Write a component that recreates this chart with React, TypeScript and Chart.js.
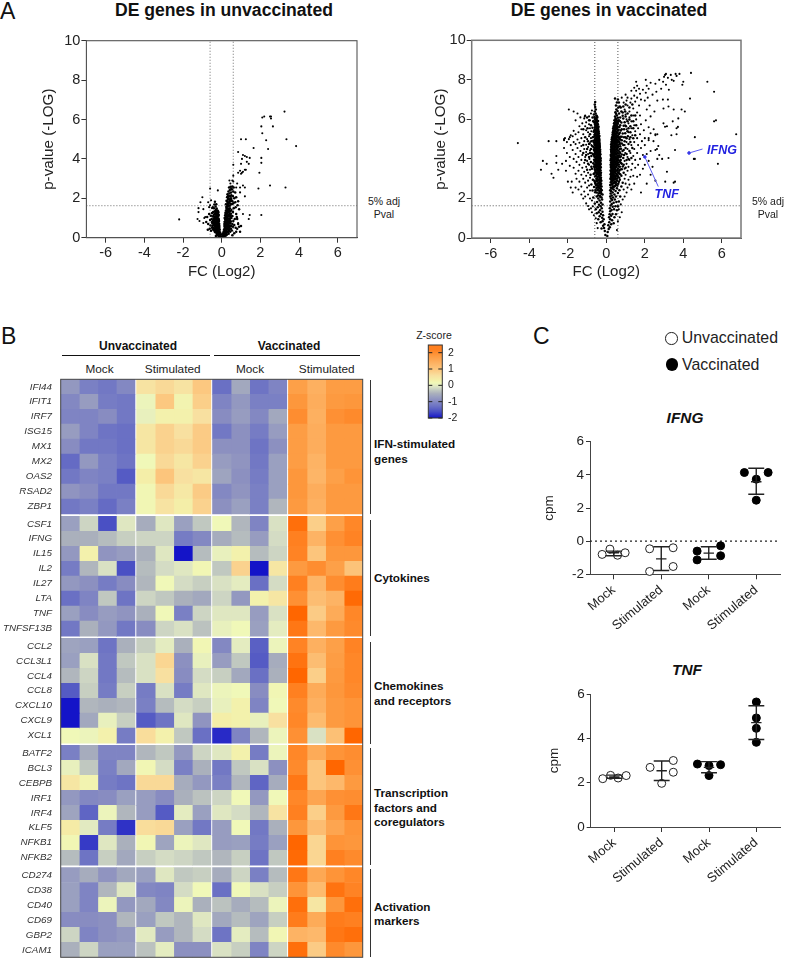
import React, { useEffect, useRef } from "react";
import { Chart, registerables } from "chart.js";

Chart.register(...registerables);

const FONT = '"Liberation Sans", Arial, sans-serif';

// ---------- Panel A: volcano data (FC log2, -log10 p), flat x,y pairs
const unvacCoreLeft = [-.03,.03,-.06,.1,-.04,.18,-.09,.06,-.1,.16,-.08,.26,-.13,.12,-.12,.3,-.15,.22,-.1,.4,-.17,.08,-.18,.34,-.14,.45,-.2,.18,-.22,.28,-.16,.55,-.24,.42,-.19,.5,-.12,.6,-.26,.2,-.28,.35,-.21,.62,-.15,.72,-.3,.5,-.25,.6,-.33,.28,-.18,.78,-.23,.74,-.28,.68,-.35,.45,-.14,.85,-.32,.62,-.2,.88,-.38,.38,-.26,.84,-.16,.96,-.36,.7,-.3,.82,-.42,.5,-.22,1,-.34,.92,-.4,.64,-.18,1.08,-.27,1.02,-.45,.42,-.38,.86,-.15,1.15,-.32,1.08,-.24,1.14,-.44,.72,-.2,1.22,-.36,1.05,-.48,.6,-.28,1.22,-.42,.95,-.17,1.28,-.33,1.26,-.25,1.32,-.5,.8,-.4,1.18,-.22,1.38,-.46,1.08,-.3,1.4,-.36,1.34,-.52,.95,-.26,1.48,-.44,1.3,-.58,.62,-.4,1.5,-.6,.9,-.32,1.58,-.5,1.25,-.56,1.12,-.46,1.55,-.38,1.68,-.35,1.82,-.28,1.7,-.62,.45,-.55,.35,-.7,.7,-.75,1.05,-.65,1.2,-.72,.4,-.8,.8,-.3,.08];
const unvacDenseLeft = [-.1,.08,-.15,.3,-.2,.38,-.24,.14,-.12,.5,-.27,.28,-.18,.6,-.3,.4,-.22,.46,-.13,.7,-.25,.52,-.33,.54,-.36,.32,-.19,.68,-.28,.76,-.32,.74,-.15,.9,-.22,.82,-.4,.44,-.36,.6,-.18,.94,-.24,.96,-.3,.92,-.38,.76,-.42,.8,-.2,1.1,-.27,1.1,-.33,1,-.24,1.24,-.3,1.18,-.38,1,-.44,.88,-.19,1.34,-.35,1.2,-.27,1.38,-.42,1.1,-.31,1.32,-.48,.72,-.5,.5];
const unvacCoreRight = [.03,.02,.05,.12,.08,.05,.07,.22,.11,.14,.1,.32,.14,.08,.13,.26,.16,.18,.12,.42,.18,.3,.2,.1,.16,.5,.22,.24,.19,.42,.14,.6,.24,.36,.27,.16,.21,.55,.17,.7,.26,.48,.3,.28,.23,.66,.15,.8,.33,.42,.28,.6,.2,.82,.36,.2,.25,.76,.32,.56,.18,.92,.38,.36,.3,.72,.23,.92,.4,.5,.35,.66,.15,1,.27,.88,.44,.3,.2,1.05,.33,.84,.42,.62,.25,1.04,.38,.78,.18,1.14,.48,.46,.3,1,.22,1.18,.45,.72,.36,.96,.28,1.14,.5,.6,.42,.9,.2,1.28,.33,1.12,.52,.36,.25,1.26,.48,.82,.38,1.1,.3,1.26,.55,.7,.45,1,.22,1.38,.35,1.3,.28,1.38,.58,.55,.5,1,.42,1.2,.25,1.48,.38,1.4,.32,1.5,.6,.85,.48,1.22,.55,1.1,.28,1.6,.42,1.5,.35,1.62,.65,.65,.22,1.7,.5,1.4,.3,1.76,.45,1.72,.38,1.8,.58,1.3,.25,1.88,.68,.95,.33,1.95,.52,1.7,.42,1.95,.62,1.5,.28,2.05,.5,1.92,.36,2.1,.72,.5,.55,1.85,.45,2.1,.3,2.2,.4,2.25,.6,1.75,.5,2.15,.35,2.35,.48,2.3,.42,2.42,.58,2.1,.38,2.55,.52,2.45,.46,2.58,.6,2.35,.55,2.6,.5,2.5,.62,2.55,.7,1.8,.75,1.2,.8,.45,.85,.7,.9,.55,.78,1.05,.72,1.55,.82,1.65,.9,1.45,.65,2,.75,2.05,.8,.95,.95,.3,1,.6,.85,1.85,.7,2.3,.55,.12,.65,.22,.75,.3];
const unvacDenseRight = [.09,.12,.12,.2,.15,.34,.2,.2,.18,.48,.24,.14,.23,.42,.27,.3,.14,.7,.2,.62,.3,.46,.24,.58,.17,.82,.34,.3,.28,.68,.36,.5,.22,.78,.31,.62,.38,.6,.19,.98,.26,.96,.33,.76,.4,.42,.42,.74,.24,1.12,.29,.9,.36,.84,.46,.58,.31,1.08,.4,.98,.21,1.24,.27,1.32,.36,1.18,.44,.84,.47,1.1,.3,1.42,.24,1.56,.4,1.32,.34,1.44,.45,1.34,.3,1.66,.36,1.72,.42,1.62,.28,1.85,.4,1.88,.35,2,.45,1.85,.4,2.1,.32,2.1,.48,2];
const unvacOutliers = [-2.2,.93,3.25,6.4,3.35,5,3.85,4.65,2.65,5.65,2.55,6.15,2.5,6.15,2.55,6.05,2.2,6.15,2.1,6.1,2.05,5.65,2.1,5.3,2.3,4.95,2.4,4.5,1.65,4.55,1.25,5,1,5,2.05,4.05,2.05,3.8,1.95,3.3,.85,4.35,1.1,4.2,1.2,4.15,1.3,4.1,1.45,4.05,1.05,4,1.3,3.85,1,3.75,1.4,3.75,.6,3.7,1.2,3.45,1.25,3.45,.85,3.3,1,3.25,1.05,3.3,1.1,3.35,.95,3.4,.6,3.15,.55,2.9,.4,2.9,.45,2.75,.8,2.75,1.1,2.65,1.2,2.55,.95,2.55,1.9,2.5,2.5,2.65,3.3,2.55,1.2,2.1,2.05,1.15,1.45,1.15,1.4,.95,1.1,1.2,.8,1,.85,.75,.95,2.3,.75,2.55,.6,2.85,-.6,2.5,-1,2.05,-.2,2.4,-1.1,1.8,-1.2,1.5,-1.2,1.3,-1.25,.95,-1.15,.85,-.95,1.45,-.85,1.05,-.9,1,-.7,1.8,-.65,1.55,-.6,1.65,-.55,1.9,-.5,1.5,-.95,.75];

const vacLeftCore = [-.05,.15,-.08,.35,-.12,.5,-.1,.7,-.17,.62,-.25,.48,-.2,.85,-.14,.95,-.3,.8,-.22,1.02,-.35,1.1,-.17,1.15,-.28,1.22,-.42,.95,-.4,1.3,-.2,1.33,-.33,1.4,-.5,1.25,-.24,1.5,-.45,1.55,-.3,1.6,-.38,1.68,-.55,1.45,-.2,1.7,-.28,1.78,-.48,1.82,-.35,1.9,-.22,1.95,-.6,1.75,-.42,2,-.25,2.05,-.33,2.12,-.5,2.1,-.68,2.05,-.2,2.2,-.4,2.25,-.28,2.3,-.58,2.32,-.36,2.38,-.24,2.42,-.46,2.44,-.72,2.4,-.3,2.5,-.52,2.53,-.38,2.56,-.25,2.6,-.64,2.58,-.44,2.65,-.32,2.68,-.55,2.72,-.27,2.75,-.4,2.78,-.78,2.7,-.34,2.83,-.48,2.86,-.6,2.85,-.26,2.9,-.42,2.93,-.3,2.97,-.7,2.95,-.52,3,-.28,3.05,-.36,3.08,-.45,3.1,-.58,3.12,-.3,3.16,-.4,3.2,-.5,3.22,-.66,3.24,-.33,3.27,-.28,3.3,-.44,3.32,-.55,3.34,-.37,3.38,-.3,3.42,-.48,3.44,-.6,3.46,-.42,3.5,-.34,3.52,-.75,3.5,-.29,3.56,-.52,3.58,-.4,3.6,-.64,3.62,-.32,3.64,-.46,3.67,-.36,3.7,-.56,3.72,-.29,3.74,-.42,3.77,-.5,3.8,-.68,3.78,-.33,3.83,-.38,3.86,-.6,3.88,-.46,3.9,-.3,3.92,-.54,3.95,-.4,3.97,-.35,4,-.3,4.03,-.44,4.05,-.5,4.08,-.37,4.1,-.62,4.12,-.33,4.15,-.47,4.17,-.4,4.2,-.56,4.22,-.31,4.24,-.7,4.25,-.43,4.28,-.36,4.3,-.5,4.33,-.6,4.35,-.33,4.37,-.46,4.4,-.4,4.43,-.55,4.45,-.32,4.47,-.65,4.48,-.37,4.5,-.48,4.53,-.42,4.56,-.58,4.58,-.34,4.6,-.5,4.62,-.38,4.65,-.72,4.64,-.45,4.68,-.6,4.7,-.35,4.72,-.52,4.75,-.41,4.78,-.47,4.8,-.37,4.83,-.65,4.84,-.55,4.86,-.43,4.88,-.36,4.92,-.5,4.94,-.6,4.96,-.4,4.98,-.38,5.02,-.47,5.05,-.55,5.08,-.42,5.12,-.7,5.1,-.36,5.16,-.5,5.2,-.62,5.22,-.44,5.26,-.39,5.3,-.56,5.32,-.48,5.36,-.4,5.4,-.66,5.38,-.52,5.44,-.42,5.48,-.6,5.5,-.45,5.55,-.54,5.6,-.41,5.64,-.72,5.58,-.5,5.68,-.44,5.74,-.6,5.76,-.48,5.82,-.55,5.88,-.43,5.92,-.67,5.9,-.5,5.98,-.58,6.04,-.47,6.1,-.62,6.12,-.52,6.2,-.56,6.3,-.6,6.4,-.55,6.5,-.58,6.62,-.6,6.75,-.58,6.88];
const vacLeftDense = [-.31,2.07,-.43,2.15,-.26,2.22,-.35,2.28,-.5,2.3,-.3,2.37,-.41,2.42,-.56,2.42,-.28,2.47,-.36,2.52,-.47,2.56,-.3,2.62,-.41,2.62,-.53,2.65,-.35,2.72,-.46,2.74,-.31,2.79,-.58,2.78,-.37,2.89,-.5,2.92,-.33,2.93,-.45,2.97,-.62,2.9,-.34,3.02,-.47,3.04,-.39,3.14,-.53,3.15,-.31,3.21,-.43,3.25,-.62,3.28,-.35,3.31,-.51,3.3,-.41,3.39,-.33,3.45,-.57,3.4,-.45,3.47,-.38,3.54,-.49,3.53,-.61,3.55,-.31,3.59,-.43,3.63,-.55,3.64,-.36,3.66,-.49,3.69,-.33,3.71,-.41,3.74,-.62,3.72,-.52,3.76,-.37,3.8,-.45,3.82,-.32,3.87,-.55,3.84,-.42,3.89,-.37,3.94,-.5,3.93,-.64,3.96,-.33,3.98,-.45,4.01,-.39,4.06,-.55,4.04,-.33,4.09,-.46,4.11,-.6,4.1,-.36,4.14,-.52,4.15,-.43,4.19,-.65,4.2,-.35,4.22,-.48,4.25,-.39,4.27,-.58,4.27,-.33,4.31,-.45,4.34,-.54,4.36,-.38,4.39,-.63,4.42,-.43,4.45,-.35,4.46,-.51,4.47,-.39,4.54,-.6,4.52,-.46,4.55,-.36,4.58,-.53,4.6,-.42,4.62,-.66,4.6,-.35,4.67,-.48,4.67,-.56,4.69,-.39,4.72,-.44,4.75,-.62,4.76,-.5,4.78,-.36,4.79,-.43,4.84,-.58,4.82,-.47,4.87,-.39,4.9,-.54,4.91,-.68,4.92,-.42,4.95,-.48,4.99,-.37,5,-.57,5.03,-.43,5.07,-.5,5.1,-.39,5.1,-.62,5.14,-.46,5.16,-.54,5.18,-.41,5.22,-.58,5.27,-.47,5.29,-.43,5.34,-.52,5.4,-.63,5.42,-.46,5.43,-.57,5.47,-.49,5.52,-.42,5.58,-.59,5.6,-.47,5.62,-.53,5.7,-.46,5.78,-.58,5.72,-.52,5.8,-.62,5.85,-.5,5.9,-.55,5.96,-.53,6.06,-.6,6.02,-.49,6.16,-.82,3.2,-1,3.45,-.78,3.6,-.95,3.75,-.8,3.85,-1.1,3.95,-.78,4.15,-.9,4.1,-1.05,4.2,-.85,4.3,-1.2,4.3,-.8,4.5,-1,4.5,-.9,4.75,-1.2,4.7,-.78,4.9,-.95,4.9,-1.1,5.1,-.85,5.25,-.98,5.55,-.8,5.7,-.9,5.95,-1,6.1,-1.2,5.5,-.72,6.1,-.65,6.25];
const vacLeftScatter = [-.45,.5,-.5,.75,-.55,1,-.65,1.15,-.75,1.3,-.8,1.5,-.9,1.45,-.7,1.6,-.95,1.62,-.75,1.9,-.85,2,-1.05,1.75,-1.2,2,-1.1,2.1,-.95,2.2,-1.3,2.2,-1.45,2.45,-1.6,2.55,-.85,2.4,-1.15,2.35,-1,2.55,-1.3,2.6,-.9,2.65,-1.75,2.3,-1.85,2.55,-1.1,2.8,-1.4,2.85,-.95,2.9,-1.2,3,-1.55,3,-.85,3.05,-1.8,2.85,-2,2.85,-1.05,3.15,-1.3,3.2,-.95,3.3,-1.6,3.25,-1.15,3.35,-1.45,3.4,-.85,3.45,-2.1,3.4,-1.25,3.55,-1.05,3.6,-1.7,3.55,-1.9,3.65,-.9,3.7,-1.4,3.7,-1.15,3.8,-1.55,3.85,-1,3.9,-2.3,3.75,-1.3,3.95,-.88,4,-1.7,4,-1.1,4.1,-1.45,4.1,-1.9,4.1,-1.25,4.2,-.95,4.25,-1.6,4.25,-2.05,4.3,-1.05,4.35,-1.35,4.4,-.85,4.42,-1.75,4.45,-1.15,4.5,-1.5,4.55,-2.2,4.55,-.95,4.6,-1.3,4.65,-1.85,4.7,-1.05,4.72,-1.6,4.75,-.85,4.8,-1.4,4.82,-1.7,4.85,-1.15,4.9,-2.05,4.85,-1.95,5,-1.9,5.1,-2.15,5.05,-1.5,4.98,-1,5,-1.3,5.05,-.9,5.15,-1.75,5.15,-1.6,5.25,-1.85,5.2,-1.2,5.25,-.95,5.35,-1.45,5.35,-1.7,5.42,-1.05,5.45,-1.3,5.5,-.85,5.55,-1.1,5.65,-1.25,5.8,-.9,5.75,-1.05,5.85,-.85,5.95,-1.15,6.05,-1.1,6.2,-1.12,6.15,-.9,6.15,-1.35,6.1,-1.5,6.3,-1.7,6.4,-1.95,6.5,-1.6,5.95,-1.4,5.65,-.8,6.3,-.75,6.45,-.7,5.9,-.78,5.4,-.8,5.05,-.78,4.7,-.76,4.3,-4.6,4.8,-3.4,3.45,-3.3,3.9,-3.1,3.75,-3,4.9,-2.85,3.25,-2.75,3.05,-2.6,4.15,-2.6,3.8,-2.6,4.9,-2.2,4.95,-2.2,5,-2.1,3.9,-2.5,3.45];
const vacRightCore = [.05,.1,.07,.3,.12,.45,.1,.65,.18,.55,.15,.8,.25,.7,.2,.95,.3,.9,.14,1.05,.38,.75,.25,1.12,.17,1.2,.42,1.05,.32,1.22,.2,1.35,.5,1.2,.27,1.42,.4,1.45,.18,1.5,.55,1.4,.33,1.58,.22,1.65,.47,1.6,.28,1.72,.6,1.6,.38,1.78,.2,1.85,.52,1.82,.3,1.92,.44,1.95,.24,2,.65,1.85,.35,2.05,.2,2.1,.5,2.1,.28,2.15,.42,2.2,.72,2.1,.22,2.25,.6,2.28,.33,2.3,.25,2.36,.48,2.38,.2,2.42,.38,2.45,.68,2.42,.3,2.5,.55,2.52,.23,2.56,.42,2.6,.34,2.62,.78,2.6,.2,2.68,.5,2.7,.28,2.72,.62,2.74,.37,2.78,.23,2.82,.45,2.85,.32,2.88,.85,2.8,.55,2.9,.26,2.94,.7,2.95,.4,2.98,.21,3,.3,3.03,.48,3.05,.24,3.08,.6,3.1,.36,3.12,.28,3.16,.78,3.15,.44,3.18,.22,3.22,.54,3.24,.33,3.26,.66,3.28,.26,3.3,.4,3.33,.9,3.3,.48,3.37,.3,3.38,.22,3.42,.58,3.44,.36,3.46,.72,3.46,.27,3.5,.44,3.53,.24,3.56,.52,3.58,.33,3.6,.64,3.62,.4,3.64,.85,3.62,.28,3.67,.22,3.7,.48,3.72,.36,3.74,.58,3.76,.3,3.8,.75,3.8,.25,3.83,.42,3.85,.53,3.87,.34,3.9,.22,3.93,.65,3.92,.46,3.96,.28,3.98,.38,4,.24,4.02,.55,4.04,.32,4.06,.44,4.1,.7,4.08,.27,4.12,.62,4.14,.37,4.16,.23,4.2,.5,4.22,.34,4.24,.8,4.22,.28,4.28,.42,4.3,.58,4.32,.25,4.35,.36,4.38,.68,4.38,.48,4.42,.3,4.44,.24,4.48,.55,4.5,.4,4.52,.33,4.55,.76,4.52,.26,4.58,.46,4.6,.62,4.62,.36,4.64,.28,4.68,.52,4.7,.42,4.72,.88,4.7,.25,4.74,.7,4.76,.33,4.78,.48,4.8,.58,4.82,.38,4.85,.27,4.87,.44,4.9,.65,4.9,.32,4.93,.54,4.95,.8,4.95,.4,4.98,.28,5,.35,5.03,.5,5.05,.6,5.08,.3,5.1,.42,5.12,.72,5.12,.36,5.16,.55,5.2,.32,5.22,.46,5.25,.66,5.26,.38,5.3,.85,5.28,.33,5.34,.52,5.36,.44,5.4,.6,5.42,.37,5.45,.75,5.44,.48,5.5,.35,5.54,.56,5.56,.42,5.6,.68,5.62,.38,5.65,.5,5.7,.9,5.68,.45,5.74,.6,5.78,.4,5.8,.55,5.85,.78,5.84,.47,5.9,.42,5.95,.65,5.96,.52,6,.48,6.06,.6,6.08,.72,6.1,.45,6.15,.55,6.2,.85,6.18,.5,6.28,.66,6.3,.47,6.36,.58,6.42,.78,6.4,.52,6.5,.62,6.6,.5,6.7,.7,6.65,.55,6.85,.6,7,.45,7.05];
const vacRightDense = [.27,2.52,.36,2.57,.46,2.64,.25,2.7,.33,2.74,.57,2.66,.42,2.8,.28,2.84,.5,2.8,.37,2.91,.65,2.84,.25,2.97,.46,2.96,.34,2.98,.27,3.02,.42,3.02,.55,3,.33,3.07,.67,3.05,.25,3.13,.4,3.12,.5,3.14,.3,3.19,.58,3.18,.37,3.22,.72,3.22,.26,3.26,.47,3.27,.35,3.31,.6,3.33,.43,3.36,.25,3.36,.31,3.42,.52,3.42,.38,3.42,.67,3.4,.45,3.47,.28,3.47,.35,3.53,.6,3.5,.8,3.48,.24,3.6,.4,3.56,.5,3.62,.3,3.62,.7,3.6,.37,3.68,.55,3.68,.26,3.72,.44,3.72,.65,3.72,.33,3.76,.5,3.78,.27,3.77,.4,3.8,.6,3.82,.8,3.75,.35,3.84,.47,3.84,.29,3.87,.7,3.86,.4,3.9,.55,3.91,.26,3.96,.34,3.95,.6,3.97,.43,3.98,.75,3.95,.5,3.99,.28,4.03,.4,4.05,.6,4.06,.35,4.08,.5,4.1,.75,4.12,.25,4.13,.44,4.13,.57,4.17,.31,4.19,.67,4.19,.41,4.2,.27,4.24,.53,4.26,.37,4.27,.47,4.3,.72,4.3,.32,4.32,.62,4.28,.42,4.35,.25,4.4,.52,4.38,.33,4.4,.39,4.44,.6,4.43,.84,4.4,.45,4.46,.28,4.5,.36,4.5,.52,4.54,.68,4.5,.42,4.58,.31,4.6,.58,4.58,.48,4.64,.26,4.63,.39,4.67,.72,4.64,.55,4.67,.32,4.7,.44,4.76,.62,4.72,.3,4.75,.37,4.8,.5,4.76,.8,4.78,.28,4.82,.42,4.82,.55,4.86,.35,4.87,.68,4.84,.47,4.89,.3,4.9,.6,4.96,.38,4.94,.44,4.97,.72,4.98,.5,4.99,.33,4.97,.31,5.04,.45,5.06,.38,5.08,.55,5.1,.68,5.05,.34,5.13,.48,5.15,.8,5.12,.4,5.2,.6,5.16,.35,5.26,.52,5.28,.44,5.3,.7,5.32,.38,5.36,.58,5.33,.47,5.42,.36,5.4,.64,5.47,.42,5.52,.53,5.5,.8,5.5,.46,5.6,.38,5.58,.6,5.62,.5,5.62,.72,5.7,.42,5.72,.55,5.7,.47,5.8,.62,5.88,.52,5.8,.7,5.92,.45,5.85,.58,5.93,.5,5.95,.9,3.7,1,3.55,.88,4.05,1.05,3.95,1.15,4,.92,4.2,1.3,4.05,1.05,4.25,.9,4.45,1.2,4.4,1,4.55,1.35,4.55,.95,4.9,1.15,4.75,1.25,4.85,1.05,5.05,.92,5.1,1.4,5.05,1.12,5.15,1.25,5.1,.98,5.3,1.5,5.2,1.1,5.4,1.25,5.35,.92,5.5,1.4,5.55,1.15,5.55,1.02,5.65,1.25,5.65,.95,5.85,1.1,5.9,1.55,5.7,1.4,5.9,1.2,6,.88,6.05,1,6.15,1.3,6.2,1.1,6.3,.85,6.35,.98,6.4,1.5,6.2,1.2,6.6,.75,6.6,.88,6.65,1.35,6.75,1,6.75,.65,6.85];
const vacRightScatter = [.55,.4,.6,.85,.7,1.05,.8,1.3,.65,1.45,.75,1.7,.85,1.95,.95,2.1,1.05,2.3,1.1,2.55,.9,2.45,1,2.75,1.2,2.7,1.3,2.45,1.15,2.95,.95,3,1.45,2.75,1.25,3.1,1,3.2,1.4,3.15,1.1,3.4,1.6,3.1,1.3,3.45,.95,3.5,1.75,3.2,1.5,3.55,1.15,3.6,1.8,2.3,2.1,2.75,1.05,3.75,1.35,3.75,1.65,3.7,1.9,3.5,.95,3.9,1.2,3.95,1.5,3.95,2,3.7,1.1,4.1,1.4,4.15,1.75,4,2.2,3.9,.98,4.3,1.25,4.3,1.6,4.3,1.9,4.2,2.4,3.6,2.65,4,2.1,4.25,1.1,4.5,1.45,4.5,1.8,4.55,2.3,4.4,2.55,4.45,.95,4.7,1.3,4.7,1.65,4.7,2,4.7,2.7,4.65,1.05,4.85,1.45,4.85,1.85,4.9,2.45,4.9,1.2,5,1.6,5.05,2,5.05,2.2,5.05,2.55,5.2,2.65,5.25,1,5.1,1.35,5.2,1.75,5.25,2.3,5.3,1.15,5.35,1.5,5.4,1.95,5.45,1.05,5.5,1.3,5.55,1.65,5.55,2.2,5.6,1.45,5.7,.98,5.7,1.15,5.8,1.8,5.75,1.3,5.9,1.05,6,1.55,6,2.05,5.95,1.2,6.1,1.4,6.2,1,6.25,1.75,6.2,2.3,6.15,1.6,6.35,1.2,6.4,.95,6.5,2.1,6.5,1.4,6.55,2.5,6.4,1.1,6.7,.9,6.85,1.7,6.7,1.25,6.85,2.25,6.7,1.5,6.9,1.05,6.95,2,6.95,.8,7.1,2.65,6.95,1.3,7.05,1.6,7.1,1.8,7,2.15,7.1,1.1,7.1,1.45,7.2,2.4,7.25,1,7.25,1.75,7.3,2.05,7.35,1.55,7.45,1.3,7.45,2.6,7.4,1.7,7.55,1.9,7.5,2.2,7.55,1.45,7.6,2.1,7.7,1.6,7.7,2.85,7.55,1.55,7.9,2.05,8,2.3,7.85,2.55,7.8,2.75,8,3.1,7.75,3.25,7.5,2.95,7.9,3.05,8.25,3.1,8.3,3,8.15,3.2,8.1,3.4,8,3.35,8.25,3.6,8.3,3.65,8.2,3.8,8.3,3.95,7.75,4,7.9,4.4,8.35,3.5,7.95,3.06,2.85,3.57,2.85,3.15,3.35,3.5,2.8,3.23,4.05,2.63,4.5,2.9,4,3.05,5.63,2.97,5.8,3.2,7,3.23,6.65,3.45,5.9,3.15,5.65,3.65,5.55,3.72,5.62,3.38,5.2,3.65,5.25,3.57,4.45,4.08,6.4,3.91,6.5,3.5,6.5,2.46,5.5,2.55,5.25,2.94,7,2.97,6.55,3.74,6.05,2,4.1,6.75,5.25,5.8,3.75,5.7,5.95,5.6,5.9,5.6,7.4,5.25,7.9,4.6,5.1,4.6,4,4.55,4,4.35,7.05,2.2,4.95,2.75,4.2,2.3,3.2,2.55,2.9];

const fcTicks = [-6, -4, -2, 0, 2, 4, 6];
const pvalTicks = [0, 2, 4, 6, 8, 10];
const fcCut = 0.6;
const pvalCut = 1.63;
const ifngPointer = [4.3, 4.3, 5, 4.5];
const tnfPointer = [2, 4.1, 2.7, 2.6];

// ---------- Panel B: heatmap z-scores
const genesIfn = ["IFI44", "IFIT1", "IRF7", "ISG15", "MX1", "MX2", "OAS2", "RSAD2", "ZBP1"];
const zIfn = [
  [-.8,-1.1,-1.2,-1,.55,.7,.55,.95,-1.3,-.6,-1.25,-1.05,1.7,1.4,1.75,1.75],
  [-1,-.75,-1.15,-1.2,.1,.95,.25,.85,-1.05,-.8,-1.1,-1.1,1.85,1.45,1.8,1.85],
  [-1.05,-1.05,-.95,-1.2,.05,.3,.3,.6,-.95,-.75,-1,-.6,2,1.4,1.95,2.05],
  [-.75,-1.05,-1.25,-1.3,.5,.8,.6,.9,-1.2,-.9,-1.15,-.75,1.75,1.45,1.8,1.8],
  [-.95,-1.2,-1.2,-1.3,.5,.8,.7,.9,-.9,-.9,-1.25,-.9,1.75,1.45,1.8,1.8],
  [-1.35,-.8,-1.1,-1.25,.15,.7,.5,.8,-.75,-.85,-1.2,-.7,1.75,1.35,1.8,1.8],
  [-1.2,-1.05,-1.1,-1.5,.35,1,.6,.5,-.65,-.9,-1.15,-.7,1.85,1.3,1.7,1.9],
  [-.85,-.95,-1.2,-1.2,.2,.7,.45,.9,-1,-.85,-1.1,-.7,1.85,1.45,1.8,1.8],
  [-1.2,-1.1,-1.35,-1.1,.2,.55,.35,.8,-.9,-.7,-1.1,-.45,1.8,1.4,1.8,1.8],
];
const genesCyto = ["CSF1", "IFNG", "IL15", "IL2", "IL27", "LTA", "TNF", "TNFSF13B"];
const zCyto = [
  [-.7,-.2,-1.6,-.05,-.55,-.05,-.7,-.3,.15,-.45,-1.05,-.1,2.4,.85,1.7,2.1],
  [-.5,-.5,-.4,-.25,-.2,-.2,-1.15,-1,-.55,-.4,-.75,-.15,2.2,1.35,1.95,2.15],
  [-.8,.3,-.85,-.75,-.5,-.05,-2,-.4,.05,.3,-.4,-.2,2.15,1,1.85,1.85],
  [-1.15,-.45,-.1,-1.6,-.4,-.15,-.05,.2,-.3,.8,-2,.5,1.8,2,1.7,1.05],
  [-.8,-.9,-1.15,-.95,-.45,.15,-.15,-.25,-.1,0,-1.3,-.15,2.2,1.3,2,2.25],
  [-1.3,-1.05,-.3,-1.25,-.2,-.3,-.5,-.6,-.2,-.8,.3,.5,1.95,1.15,1.35,2.45],
  [-.7,-.95,-.75,-.85,-.5,.15,-1.1,-.2,-.05,-.05,-.75,-.1,2.5,.9,1.5,2.1],
  [-1.2,-.5,-.8,-1.2,-.95,-.2,-.1,-.35,.05,.15,-.7,0,2.3,1.25,1.8,2.05],
];
const genesChemo = ["CCL2", "CCL3L1", "CCL4", "CCL8", "CXCL10", "CXCL9", "XCL1"];
const zChemo = [
  [-.65,-.7,-1.25,-.5,-.25,0,-.5,.2,-1,0,-1.45,.1,2.15,1.4,1.7,2.15],
  [-.7,-.1,-1.2,-.3,-.1,.75,-.9,.05,-.75,-.3,-1.5,-.55,2.35,1.15,1.75,2.1],
  [-.45,-.2,-1.2,-.4,-.1,.6,-.95,-.15,-.25,-.6,-1.3,-.5,2.5,.85,1.8,2.1],
  [-1.5,-.25,-1.15,-.25,-1.15,-.1,-1.15,-.05,.1,.15,-.95,.2,2.2,1.5,1.85,2.05],
  [-2,-.45,-.5,-.45,-1.1,-.4,-.15,-.25,.05,.3,-1.05,.15,2.05,1.4,1.8,1.9],
  [-2,-.6,.05,-.25,-1.5,-1.25,-.05,-.85,.35,.3,.05,.6,2.1,1.2,1.8,1.9],
  [.15,.1,.3,-1.15,.65,.3,-.3,-1.3,-1.85,-1.05,-.45,.1,1.95,-.1,1.1,2.5],
];
const genesTf = ["BATF2", "BCL3", "CEBPB", "IRF1", "IRF4", "KLF5", "NFKB1", "NFKB2"];
const zTf = [
  [-1.1,-.55,-1.05,-1.05,-.45,-.3,-.8,-.2,-.05,.3,-1.15,.1,2.1,1.5,1.9,2],
  [.05,-.3,-1.1,-.6,.2,-.15,-1.1,-.5,-1.2,-.3,-.1,-.9,2.05,1,2.5,1.95],
  [.5,.25,-1.15,-1.25,.7,.7,-.55,-.8,-1.1,-.45,-1.4,-.55,2.3,1,1.25,1.8],
  [-.8,-1,-.95,-.7,-.75,-.95,-.5,-.35,-.2,.15,-.8,.15,2.1,1.6,1.95,2],
  [-.65,-1.4,.1,-.45,-.75,-1.5,0,-.7,-.05,-.15,-.45,.55,2.2,.85,1.8,2.3],
  [.4,-.02,-1.15,-1.8,.65,.7,-.7,-1.2,-.75,.15,-1.2,-.5,1.85,1.15,1.6,1.9],
  [.2,-1.75,-.05,-.5,.2,-.65,.1,-.05,-.75,-.7,-1.15,-.7,2.5,.75,1.9,1.85],
  [-.4,-1.25,-.25,-.6,-.25,-.15,-.2,-.3,-.45,-.25,-1.25,-.3,2.45,.75,2.2,2.05],
];
const genesAct = ["CD274", "CD38", "CD40", "CD69", "GBP2", "ICAM1"];
const zAct = [
  [-.75,-.55,-.85,-.6,-.7,-.05,-.3,-.25,-.55,-.2,-1.1,-.4,2.3,1.55,1.9,2.1],
  [-.7,-1.05,-.45,-.05,-1,-1.05,-.15,.15,-1.3,.15,-.1,-.25,1.9,1.2,2.35,2.15],
  [-.7,-1.05,.1,-.8,-.6,-1,.1,-.5,-.35,-.55,-.4,.1,2.4,.5,1.85,2.4],
  [-.95,-.95,-.9,-.45,-.7,-.3,-.45,-.05,-.6,-.4,-.65,-.25,2.25,1.5,2.25,2.2],
  [-.2,-1.05,-.9,-.8,-.02,-.75,-.45,-.15,-1.25,0,-.4,.2,1.35,1.25,2.3,2.4],
  [-.5,-.2,-.7,-.7,-.35,0,-.9,-.9,-.1,-.25,-1.05,-.2,2.4,.9,2.05,1.85],
];
const zTicks = [-2, -1, 0, 1, 2];
const zStops: [number, string][] = [
  [-2, "#1414c8"], [-1.6, "#4a50c4"], [-1.3, "#6a70c4"], [-1.1, "#7a80c4"], [-.9, "#8c90c0"],
  [-.7, "#9aa0c0"], [-.5, "#aab0bc"], [-.3, "#c0c8c0"], [-.15, "#d4dcc4"], [0, "#e4ecc0"],
  [.15, "#f0f8b8"], [.35, "#f4eea8"], [.6, "#f8e0a0"], [.95, "#fcc880"], [1.4, "#fdb060"],
  [1.8, "#fd9a40"], [2.2, "#ff8020"], [2.5, "#ff6600"],
];

// ---------- Panel C: dot plots
const groupTicks = [1, 2, 3, 4];
const groupNames = ["Mock", "Stimulated", "Mock", "Stimulated"];
const ifngUnvac = [.755,-.8,.92,-.48,1.08,-.85,1.24,-.7,1.755,-.46,2.25,-.4,1.755,-1.83,2.25,-1.53];
const ifngVac = [2.755,-.6,3.25,-.28,2.755,-1.13,3.25,-.88,3.75,4.14,4.25,4.14,4,3.74,4,2.47];
const ifngMean = [-.7, -1.07, -.72, 3.58];
const ifngUpper = [-.6, -.34, -.34, 4.4];
const ifngLower = [-.88, -1.77, -1.09, 2.83];
const ifngTicks = [-2, 0, 2, 4, 6];
const tnfUnvac = [.755,2.18,.92,2.33,1.08,2.21,1.25,2.32,1.755,2.69,2.245,3,2.245,2.47,2,1.97];
const tnfVac = [2.755,2.84,3.245,2.81,3,2.77,3,2.32,4,5.64,4,4.92,4,4.45,4,3.82];
const tnfMean = [2.26, 2.54, 2.69, 4.71];
const tnfUpper = [2.34, 2.98, 2.95, 5.47];
const tnfLower = [2.2, 2.1, 2.45, 3.95];
const tnfTicks = [0, 2, 4, 6];

// ---------- helpers
const pairs = (flat: number[]) => {
  const out: { x: number; y: number }[] = [];
  for (let i = 0; i < flat.length; i += 2) out.push({ x: flat[i], y: flat[i + 1] });
  return out;
};
const hex = (h: string) => [1, 3, 5].map((i) => parseInt(h.slice(i, i + 2), 16));
const zColor = (z: number) => {
  if (z <= zStops[0][0]) return zStops[0][1];
  for (let i = 1; i < zStops.length; i++) {
    if (z <= zStops[i][0]) {
      const [a, ca] = zStops[i - 1];
      const [b, cb] = zStops[i];
      const t = (z - a) / (b - a);
      const A = hex(ca), B = hex(cb);
      return `rgb(${A.map((v, k) => Math.round(v + (B[k] - v) * t)).join(",")})`;
    }
  }
  return zStops[zStops.length - 1][1];
};
const noUi = { legend: { display: false }, tooltip: { enabled: false }, title: { display: false } };
const frame = (color: string, width: number) => ({
  id: "frame",
  afterDraw(chart: any) {
    const { left, top, width: w, height: h } = chart.chartArea;
    const c = chart.ctx;
    c.save();
    c.strokeStyle = color;
    c.lineWidth = width;
    c.strokeRect(left, top, w, h);
    c.restore();
  },
});

function ChartBox({ left, top, width, height, make }: any) {
  const ref = useRef<HTMLCanvasElement>(null);
  useEffect(() => {
    const chart = new Chart(ref.current as any, make());
    return () => chart.destroy();
  }, []);
  return <canvas ref={ref} width={width} height={height} style={{ position: "absolute", left, top, width, height }} />;
}

function Txt({ x, y, s = 12, b, i, c = "#222", align = "center", children }: any) {
  const tx = align === "center" ? "-50%" : align === "right" ? "-100%" : "0";
  return (
    <div style={{ position: "absolute", left: x, top: y, transform: `translate(${tx},-50%)`, fontFamily: FONT, fontSize: s, fontWeight: b ? 700 : 400, fontStyle: i ? "italic" : "normal", color: c, whiteSpace: "nowrap", lineHeight: 1 }}>
      {children}
    </div>
  );
}

function Rule({ x, y, w, h, c = "#222" }: any) {
  return <div style={{ position: "absolute", left: x, top: y, width: w, height: h, background: c }} />;
}

function volcano(opts: any) {
  const { sets, denseCount, guide, guideW, yW, xH, pad, yTitlePad, frameC, frameW, extra } = opts;
  return {
    type: "scatter",
    data: {
      datasets: [
        ...(extra || []),
        ...sets.map((s: number[], i: number) => ({ data: pairs(s), backgroundColor: "#000", borderWidth: 0, pointRadius: i < denseCount ? 1.25 : 1.05, pointStyle: "circle" })),
        { data: [{ x: -fcCut, y: 0 }, { x: -fcCut, y: 10 }], showLine: true, borderColor: guide, borderWidth: guideW, borderDash: [1, 2], pointRadius: 0 },
        { data: [{ x: fcCut, y: 0 }, { x: fcCut, y: 10 }], showLine: true, borderColor: guide, borderWidth: guideW, borderDash: [1, 2], pointRadius: 0 },
        { data: [{ x: -7, y: pvalCut }, { x: 7, y: pvalCut }], showLine: true, borderColor: guide, borderWidth: guideW, borderDash: [1, 2], pointRadius: 0 },
      ],
    },
    options: {
      responsive: false, animation: false, events: [], devicePixelRatio: 1,
      layout: { padding: pad },
      plugins: noUi,
      scales: {
        x: {
          type: "linear", min: -7, max: 7,
          afterBuildTicks: (s: any) => { s.ticks = fcTicks.map((value) => ({ value })); },
          afterFit: (s: any) => { s.height = xH; },
          ticks: { autoSkip: false, maxRotation: 0, color: "#222", padding: 2, font: { family: FONT, size: 14.5 } },
          grid: { drawOnChartArea: false, tickLength: 5, tickColor: "#333" },
          border: { color: "#444" },
          title: { display: true, text: "FC (Log2)", color: "#222", padding: { top: 0, bottom: 9.3 }, font: { family: FONT, size: 15 } },
        },
        y: {
          type: "linear", min: 0, max: 10,
          afterBuildTicks: (s: any) => { s.ticks = pvalTicks.map((value) => ({ value })); },
          afterFit: (s: any) => { s.width = yW; },
          ticks: { autoSkip: false, color: "#222", padding: 1, font: { family: FONT, size: 14.5 } },
          grid: { drawOnChartArea: false, tickLength: 5, tickColor: "#333" },
          border: { color: "#444" },
          title: { display: true, text: "p-value (-LOG)", color: "#222", padding: { top: yTitlePad, bottom: 0 }, font: { family: FONT, size: 15.2 } },
        },
      },
    },
    plugins: [frame(frameC, frameW)],
  };
}

function heatmap() {
  const GAP_ROW = 0.155, GAP_COL = 0.09;
  const groups = [zIfn, zCyto, zChemo, zTf, zAct];
  const genes = [...genesIfn, ...genesCyto, ...genesChemo, ...genesTf, ...genesAct];
  const rows = groups.flat();
  const rowPos: number[] = [];
  let p = 0;
  groups.forEach((g) => { g.forEach(() => rowPos.push(p++)); p += GAP_ROW; });
  const colPos: number[] = [];
  for (let c = 0; c < 16; c++) colPos.push(c + Math.floor(c / 4) * GAP_COL);
  return {
    type: "bar",
    data: {
      datasets: colPos.map((start, c) => ({
        data: rows.map((r, i) => ({ x: [start, start + 1], y: rowPos[i] })),
        backgroundColor: rows.map((r) => zColor(r[c])),
        borderWidth: 0,
        grouped: false,
        barPercentage: 1,
        categoryPercentage: 1,
      })),
    },
    options: {
      indexAxis: "y", responsive: false, animation: false, events: [], devicePixelRatio: 1,
      layout: { padding: { top: 9.3, bottom: 1.7, right: 1.3, left: 0 } },
      plugins: noUi,
      scales: {
        x: { type: "linear", display: false, min: 0, max: colPos[15] + 1, offset: false, grid: { display: false, offset: false } },
        y: {
          type: "linear", reverse: true, min: -0.5, max: rowPos[rowPos.length - 1] + 0.5, offset: false,
          afterBuildTicks: (s: any) => { s.ticks = rowPos.map((value) => ({ value })); },
          afterFit: (s: any) => { s.width = 60.7; s.paddingTop = 0; s.paddingBottom = 0; },
          ticks: { autoSkip: false, padding: 8.7, color: "#333", callback: (_v: any, i: number) => genes[i], font: { family: FONT, size: 9.8, style: "italic" } },
          grid: { display: false, drawTicks: false, offset: false },
          border: { display: false },
        },
      },
    },
    plugins: [frame("#444", 1)],
  };
}

function colorbar() {
  const zMax = 2.47;
  return {
    type: "bar",
    data: {
      labels: ["z"],
      datasets: [{
        data: [[zTicks[0], zMax]],
        barPercentage: 1, categoryPercentage: 1, borderWidth: 0,
        backgroundColor: (ctx: any) => {
          const { chart } = ctx;
          const sc = chart.scales.y;
          const y0 = sc ? sc.getPixelForValue(zTicks[0]) : NaN, y1 = sc ? sc.getPixelForValue(zMax) : NaN;
          if (!chart.chartArea || !Number.isFinite(y0) || !Number.isFinite(y1)) return "#e4ecc0";
          const g = chart.ctx.createLinearGradient(0, y0, 0, y1);
          zStops.forEach(([v, col]) => { if (v <= zMax) g.addColorStop((v - zTicks[0]) / (zMax - zTicks[0]), col); });
          return g;
        },
      }],
    },
    options: {
      responsive: false, animation: false, events: [], devicePixelRatio: 1,
      layout: { padding: { left: 18.3, top: 10, bottom: 12, right: 0 } },
      plugins: noUi,
      scales: {
        x: { display: false },
        y: {
          position: "right", min: zTicks[0], max: zMax,
          afterBuildTicks: (s: any) => { s.ticks = zTicks.map((value) => ({ value })); },
          afterFit: (s: any) => { s.width = 27.7; s.paddingTop = 0; s.paddingBottom = 0; },
          ticks: { autoSkip: false, padding: 5.7, color: "#222", font: { family: FONT, size: 10.5 } },
          grid: { display: false, drawTicks: false },
          border: { display: false },
        },
      },
    },
    plugins: [
      frame("#333", 1),
      {
        id: "marks",
        afterDatasetsDraw(chart: any) {
          const { left, right } = chart.chartArea;
          const c = chart.ctx;
          c.save();
          c.strokeStyle = "#222";
          c.lineWidth = 1;
          chart.scales.y.ticks.forEach((t: any) => {
            const y = chart.scales.y.getPixelForValue(t.value);
            c.beginPath();
            c.moveTo(left, y); c.lineTo(left + 4, y);
            c.moveTo(right - 4, y); c.lineTo(right, y);
            c.stroke();
          });
          c.restore();
        },
      },
    ],
  };
}

function dotPlot(o: any) {
  const { unvac, vac, mean, upper, lower, yTicks, yMin, zeroLine, pad, xH, titlePad } = o;
  const seg: any[] = [];
  const gap = { x: NaN, y: NaN };
  groupTicks.forEach((g, i) => {
    seg.push({ x: g, y: lower[i] }, { x: g, y: upper[i] }, gap);
    seg.push({ x: g - 0.168, y: lower[i] }, { x: g + 0.168, y: lower[i] }, gap);
    seg.push({ x: g - 0.168, y: upper[i] }, { x: g + 0.168, y: upper[i] }, gap);
    seg.push({ x: g - 0.11, y: mean[i] }, { x: g + 0.11, y: mean[i] }, gap);
  });
  return {
    type: "scatter",
    data: {
      datasets: [
        { data: seg, showLine: true, spanGaps: false, borderColor: "#222", borderWidth: 1.4, pointRadius: 0 },
        { data: pairs(unvac), backgroundColor: "#fff", borderColor: "#222", borderWidth: 1, pointRadius: 4 },
        { data: pairs(vac), backgroundColor: "#000", borderColor: "#000", borderWidth: 1, pointRadius: 4 },
        ...(zeroLine ? [{ data: [{ x: 0.5, y: 0 }, { x: 4.5, y: 0 }], showLine: true, borderColor: "#222", borderWidth: 1.3, borderDash: [2, 3], pointRadius: 0 }] : []),
      ],
    },
    options: {
      responsive: false, animation: false, events: [], devicePixelRatio: 1,
      layout: { padding: pad },
      clip: false,
      plugins: noUi,
      scales: {
        x: {
          type: "linear", min: 0.5, max: 4.5,
          afterBuildTicks: (s: any) => { s.ticks = groupTicks.map((value) => ({ value })); },
          afterFit: (s: any) => { s.height = xH; },
          ticks: { autoSkip: false, minRotation: 40, maxRotation: 40, padding: 3, color: "#222", callback: (_v: any, i: number) => groupNames[i], font: { family: FONT, size: 13 } },
          grid: { drawOnChartArea: false, tickLength: 5, tickColor: "#333" },
          border: { color: "#444", width: 1 },
        },
        y: {
          type: "linear", min: yMin, max: 6,
          afterBuildTicks: (s: any) => { s.ticks = yTicks.map((value: number) => ({ value })); },
          afterFit: (s: any) => { s.width = o.yW; },
          ticks: { autoSkip: false, color: "#222", padding: 2, font: { family: FONT, size: 13.5 } },
          grid: { drawOnChartArea: false, tickLength: 4, tickColor: "#333" },
          border: { color: "#444", width: 1 },
          title: { display: true, text: "cpm", color: "#222", padding: { top: titlePad, bottom: 0 }, font: { family: FONT, size: 13.5 } },
        },
      },
    },
  };
}

const pointerSet = (p: number[]) => ({
  data: pairs(p),
  showLine: true,
  borderColor: "#5a5af0",
  borderWidth: 1,
  pointRadius: [1.4, 0],
  backgroundColor: "#2020e0",
});

const groupLabels: [number, string][][] = [
  [[444, "IFN-stimulated"], [458.5, "genes"]],
  [[578, "Cytokines"]],
  [[685.7, "Chemokines"], [701, "and receptors"]],
  [[793, "Transcription"], [807.7, "factors and"], [822, "coregulators"]],
  [[906.7, "Activation"], [921, "markers"]],
];
const brackets = [[380, 514], [520, 636], [641.7, 744], [748, 865], [869, 957]];

export default function App() {
  return (
    <div style={{ position: "absolute", left: 0, top: 0, width: 785, height: 959, background: "#fff", overflow: "hidden" }}>
      <Txt x={0} y={10.5} s={23} align="left" c="#111">A</Txt>
      <Txt x={1} y={336} s={23} align="left" c="#111">B</Txt>
      <Txt x={533} y={336} s={23} align="left" c="#111">C</Txt>

      <Txt x={224} y={10.5} s={17.6} b c="#111">DE genes in unvaccinated</Txt>
      <Txt x={609} y={10.5} s={17.6} b c="#111">DE genes in vaccinated</Txt>

      <ChartBox left={0} top={25} width={361} height={265} make={() => volcano({
        sets: [unvacCoreLeft, unvacDenseLeft, unvacCoreRight, unvacDenseRight, unvacOutliers], denseCount: 4, guide: "#888", guideW: 1.2, yW: 86.4, xH: 52.3,
        pad: { top: 15.7, right: 0.7, left: 0, bottom: 0 }, yTitlePad: 39.4, frameC: "#555", frameW: 1.1,
      })} />
      <ChartBox left={420} top={25} width={326} height={265} make={() => volcano({
        sets: [vacLeftCore, vacLeftDense, vacRightCore, vacRightDense, vacLeftScatter, vacRightScatter], denseCount: 4, guide: "#555", guideW: 1, yW: 51.7, xH: 52,
        pad: { top: 15.3, right: 0.3, left: 0, bottom: 0 }, yTitlePad: 11.6, frameC: "#777", frameW: 1.5,
        extra: [pointerSet(ifngPointer), pointerSet(tnfPointer)],
      })} />
      <Txt x={722} y={150} s={12.5} b i c="#2222e0">IFNG</Txt>
      <Txt x={666.7} y={194} s={12.5} b i c="#2222e0">TNF</Txt>
      <Txt x={384} y={200.7} s={10.5}>5% adj</Txt>
      <Txt x={384} y={213.7} s={10.5}>Pval</Txt>
      <Txt x={768} y={200.7} s={10.5}>5% adj</Txt>
      <Txt x={768} y={213.7} s={10.5}>Pval</Txt>

      <Txt x={138} y={345.7} s={12} b c="#111">Unvaccinated</Txt>
      <Txt x={289} y={345.7} s={12} b c="#111">Vaccinated</Txt>
      <Rule x={62} y={354.5} w={148} h={1.3} c="#111" />
      <Rule x={214} y={354.5} w={146} h={1.3} c="#111" />
      <Txt x={99.5} y={369.5} s={11.8}>Mock</Txt>
      <Txt x={172.7} y={369.5} s={11.8}>Stimulated</Txt>
      <Txt x={250} y={369.5} s={11.8}>Mock</Txt>
      <Txt x={326.7} y={369.5} s={11.8}>Stimulated</Txt>

      <ChartBox left={0} top={370} width={364} height={589} make={heatmap} />
      {brackets.map(([a, b], i) => <Rule key={i} x={370.3} y={a} w={1} h={b - a} c="#333" />)}
      {groupLabels.flat().map(([y, t], i) => <Txt key={i} x={374} y={y} s={11.7} b align="left" c="#111">{t}</Txt>)}

      <Txt x={434} y={334.7} s={10.5}>Z-score</Txt>
      <ChartBox left={410} top={335} width={60} height={95} make={colorbar} />

      <div style={{ position: "absolute", left: 665, top: 332, width: 10.5, height: 10.5, border: "1px solid #222", borderRadius: "50%", background: "#fff" }} />
      <Txt x={681.7} y={338} s={15.9} align="left">Unvaccinated</Txt>
      <div style={{ position: "absolute", left: 665.5, top: 358, width: 12.5, height: 12.5, borderRadius: "50%", background: "#000" }} />
      <Txt x={682} y={364.5} s={15.9} align="left">Vaccinated</Txt>

      <Txt x={685} y={417.7} s={15.4} b i c="#111">IFNG</Txt>
      <ChartBox left={520} top={430} width={265} height={205} make={() => dotPlot({
        unvac: ifngUnvac, vac: ifngVac, mean: ifngMean, upper: ifngUpper, lower: ifngLower, yTicks: ifngTicks, yMin: -2, zeroLine: true,
        yW: 70, xH: 60.7, pad: { top: 11.7, right: 4.3, left: 0, bottom: 0 }, titlePad: 21,
      })} />

      <Txt x={687} y={670} s={15.4} b i c="#111">TNF</Txt>
      <ChartBox left={520} top={683} width={265} height={202} make={() => dotPlot({
        unvac: tnfUnvac, vac: tnfVac, mean: tnfMean, upper: tnfUpper, lower: tnfLower, yTicks: tnfTicks, yMin: 0, zeroLine: false,
        yW: 70.7, xH: 58, pad: { top: 11, right: 4, left: 0, bottom: 0 }, titlePad: 26,
      })} />
    </div>
  );
}
